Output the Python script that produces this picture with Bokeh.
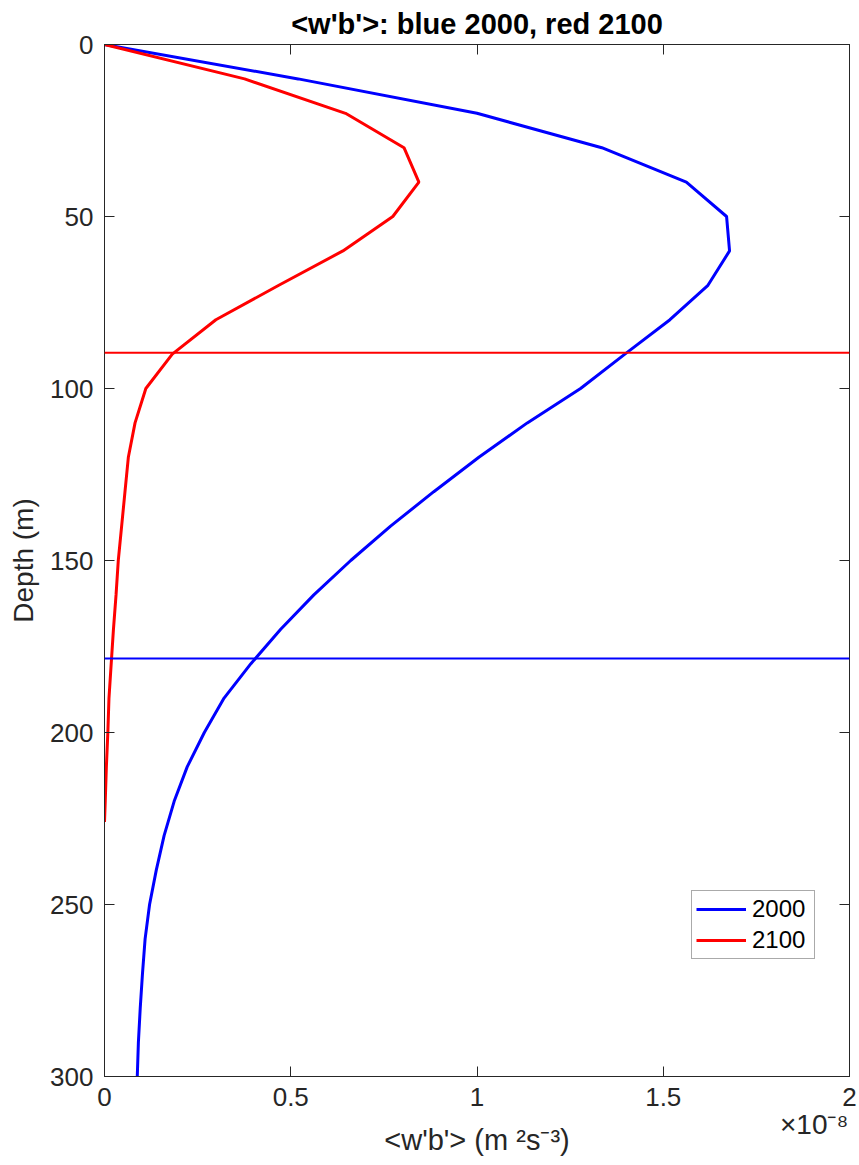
from bokeh.plotting import figure
from bokeh.models import (Range1d, Span, Legend, LegendItem, LinearAxis, FixedTicker,
                          CustomLabelingPolicy, CustomJSTickFormatter)
from bokeh.embed import file_html
from bokeh.resources import INLINE

# ---- data (values in units of 1e-8 m^2 s^-3) ----
depth_2000 = [0, 10, 20, 30, 40, 50, 60, 70, 80, 90, 100, 110, 120, 130, 140, 150,
              160, 170, 180, 190, 200, 210, 220, 230, 240, 250, 260, 270, 280, 290, 300]
wb_2000 = [0.0, 0.52, 1.0, 1.335, 1.562, 1.670, 1.678, 1.620, 1.518, 1.397, 1.278,
           1.135, 1.005, 0.884, 0.768, 0.661, 0.562, 0.473, 0.393, 0.321, 0.268,
           0.222, 0.187, 0.160, 0.139, 0.121, 0.109, 0.102, 0.096, 0.091, 0.088]

depth_2100 = [0, 10, 20, 30, 40, 50, 60, 70, 80, 90, 100, 110, 120, 130, 140, 150,
              160, 170, 180, 190, 200, 210, 220, 226]
wb_2100 = [0.0, 0.376, 0.647, 0.804, 0.844, 0.774, 0.640, 0.468, 0.299, 0.182, 0.111,
           0.082, 0.064, 0.055, 0.046, 0.037, 0.031, 0.024, 0.018, 0.012, 0.009,
           0.005, 0.002, 0.0]

mld_2000 = 178.5
mld_2100 = 89.6

x_ticks = [0, 0.5, 1, 1.5, 2]
x_tick_labels = ["0", "0.5", "1", "1.5", "2"]
y_ticks = [0, 50, 100, 150, 200, 250, 300]

title_text = "<w'b'>: blue 2000, red 2100"
x_label = "<w'b'> (m \u00b2s\u207b\u00b3)"
y_label = "Depth (m)"
x_scale_text = "\u00d710\u207b\u2078"
legend_labels = ["2000", "2100"]

AX = "#262626"
FONT = "Liberation Sans"

p = figure(width=859, height=1165, x_range=Range1d(0, 2), y_range=Range1d(300, 0),
           output_backend="svg", toolbar_location=None,
           min_border_left=104, min_border_right=10, min_border_top=44,
           min_border_bottom=89)

p.title.text = title_text
p.title.text_font = FONT
p.title.text_font_size = "29px"
p.title.text_font_style = "bold"
p.title.text_color = "black"
p.title.align = "center"

p.xgrid.visible = False
p.ygrid.visible = False
p.outline_line_color = AX
p.outline_line_width = 1
p.background_fill_color = "white"
p.border_fill_color = "white"

for ax in p.xaxis:
    ax.ticker = FixedTicker(ticks=x_ticks)
    ax.major_label_overrides = {t: l for t, l in zip(x_ticks, x_tick_labels)}
for ax in p.yaxis:
    ax.ticker = FixedTicker(ticks=y_ticks)
    ax.axis_label = y_label

for ax in list(p.xaxis) + list(p.yaxis):
    ax.axis_line_color = AX
    ax.major_tick_line_color = AX
    ax.minor_tick_line_color = None
    ax.major_tick_in = 10
    ax.major_tick_out = 0
    ax.major_label_text_font = FONT
    ax.major_label_text_font_size = "26px"
    ax.major_label_text_color = AX
    ax.axis_label_text_font = FONT
    ax.axis_label_text_font_size = "28px"
    ax.axis_label_text_font_style = "normal"
    ax.axis_label_text_color = AX
    ax.major_label_standoff = 11

p.yaxis.axis_label_standoff = 8

# second row below the x axis: the x10^-8 multiplier and the x-axis title
scale_axis = LinearAxis(ticker=FixedTicker(ticks=[1.905]),
                        formatter=CustomJSTickFormatter(args=dict(s=x_scale_text), code="return s"),
                        axis_line_color=None, major_tick_line_color=None,
                        minor_tick_line_color=None, major_tick_in=0, major_tick_out=0,
                        major_label_standoff=0, major_label_text_font=FONT,
                        major_label_text_font_size="28px", major_label_text_color=AX,
                        axis_label=x_label, axis_label_standoff=-19,
                        axis_label_text_font=FONT, axis_label_text_font_size="29px",
                        axis_label_text_font_style="normal", axis_label_text_color=AX)
p.add_layout(scale_axis, "below")

# mirror axes (ticks on top and right, no labels)
no_labels = "for (const i of indices) { indices.unset(i) }\nreturn indices"
top = LinearAxis(ticker=FixedTicker(ticks=x_ticks), major_label_policy=CustomLabelingPolicy(code=no_labels),
                 major_label_text_font_size="0px",
                 major_label_standoff=0, major_tick_in=10, major_tick_out=0,
                 minor_tick_line_color=None, axis_line_color=AX, major_tick_line_color=AX)
right = LinearAxis(ticker=FixedTicker(ticks=y_ticks), major_label_policy=CustomLabelingPolicy(code=no_labels),
                   major_label_text_font_size="0px",
                   major_label_standoff=0, major_tick_in=10, major_tick_out=0,
                   minor_tick_line_color=None, axis_line_color=AX, major_tick_line_color=AX)
p.add_layout(top, "above")
p.add_layout(right, "right")

r2000 = p.line(wb_2000, depth_2000, line_color="#0000ff", line_width=3)
r2100 = p.line(wb_2100, depth_2100, line_color="#ff0000", line_width=3)

p.add_layout(Span(location=mld_2100, dimension="width", line_color="#ff0000", line_width=2))
p.add_layout(Span(location=mld_2000, dimension="width", line_color="#0000ff", line_width=2))

legend = Legend(items=[LegendItem(label=legend_labels[0], renderers=[r2000]),
                       LegendItem(label=legend_labels[1], renderers=[r2100])],
                location=(587, 117), orientation="vertical")
legend.label_text_font = FONT
legend.label_text_font_size = "24px"
legend.label_text_color = "black"
legend.border_line_color = "#555555"
legend.border_line_width = 1
legend.background_fill_alpha = 1
legend.padding = 4
legend.spacing = 3
legend.margin = 0
legend.glyph_width = 50
legend.glyph_height = 28
legend.label_height = 28
legend.label_width = 58
legend.label_standoff = 6
p.add_layout(legend, "center")

open("out.html", "w").write(file_html(p, INLINE))
